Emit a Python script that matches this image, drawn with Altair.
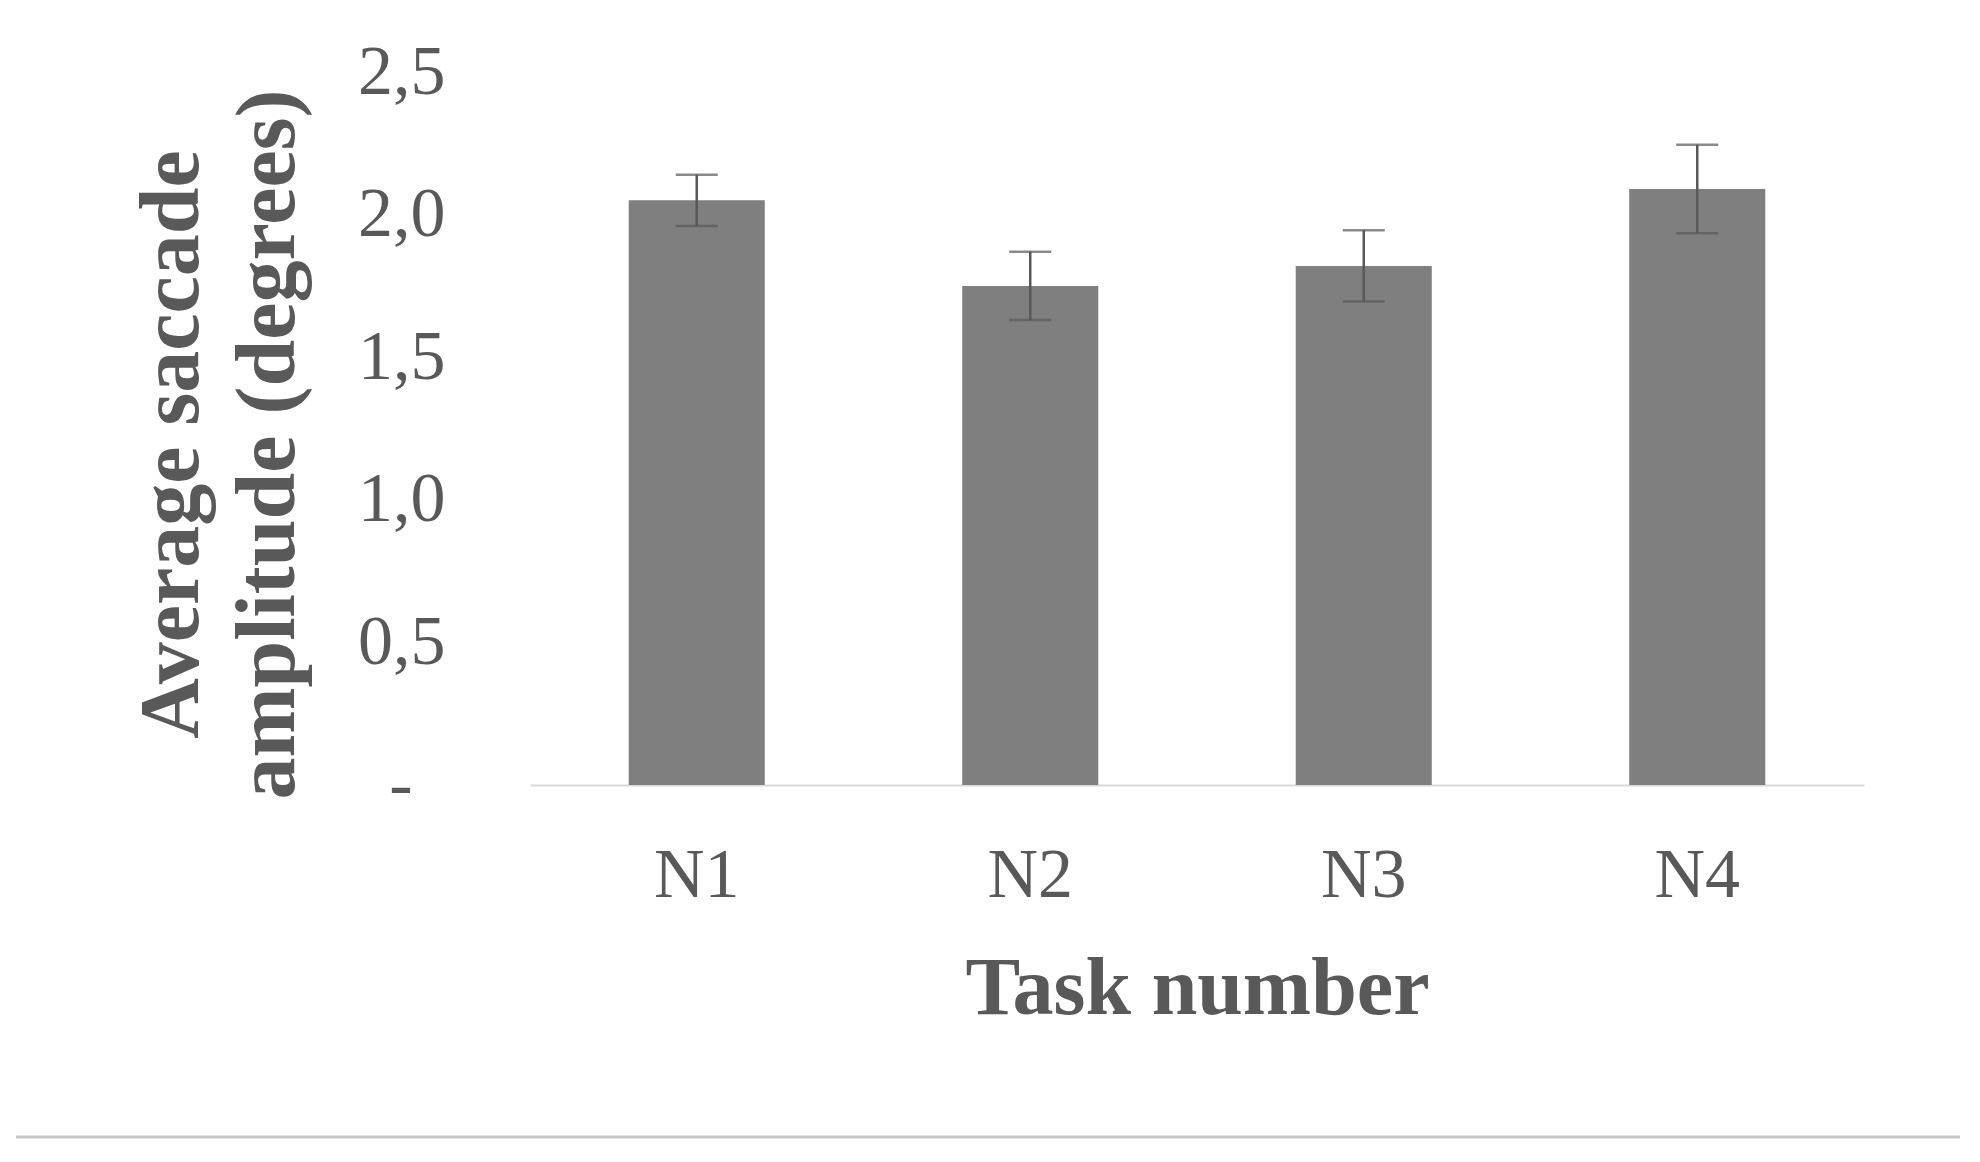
import altair as alt
import pandas as pd

tasks = ["N1", "N2", "N3", "N4"]
means = [2.05, 1.75, 1.82, 2.09]
errors = [0.09, 0.12, 0.125, 0.155]
y_ticks = [0, 0.5, 1.0, 1.5, 2.0, 2.5]
y_title = ["Average saccade", "amplitude (degrees)"]
x_title = "Task number"

df = pd.DataFrame({"task": tasks, "mean": means, "err": errors})
df["low"] = df["mean"] - df["err"]
df["high"] = df["mean"] + df["err"]

FONT = "Liberation Serif"
GRAY = "#595959"

xscale = alt.Scale(paddingInner=0.592, paddingOuter=0.296)
yscale = alt.Scale(domain=[0, 2.5], nice=False, zero=True)

x_axis = alt.Axis(
    title=x_title, labelAngle=0, labelFont=FONT, labelFontSize=70, labelColor=GRAY,
    labelBaseline="alphabetic", labelPadding=111, ticks=False, tickSize=0,
    domainColor="#d9d9d9", domainWidth=2,
    titleFont=FONT, titleFontSize=82, titleFontWeight="bold", titleColor=GRAY,
    titleBaseline="alphabetic", titleY=228,
)
y_axis = alt.Axis(
    title=y_title, values=y_ticks,
    labelExpr="datum.value == 0 ? '-' : replace(format(datum.value, '.1f'), '.', ',')",
    labelFont=FONT, labelFontSize=70, labelColor=GRAY,
    labelPadding={"condition": {"test": "datum.value == 0", "value": 118}, "value": 85},
    ticks=False, tickSize=0, domain=False, grid=False,
    titleFont=FONT, titleFontSize=84, titleFontWeight="bold", titleColor=GRAY,
    titleAngle=270, titleAlign="center", titleBaseline="middle",
    titleX=-358, titleY=372, titleLineHeight=96,
)

base = alt.Chart(df)
X = alt.X("task:N", sort=tasks, scale=xscale, axis=x_axis)

bars = base.mark_bar(color="#7f7f7f").encode(
    x=X, y=alt.Y("mean:Q", scale=yscale, axis=y_axis)
)
err_rule = base.mark_rule(color=GRAY, strokeWidth=2.5).encode(
    x=X, y=alt.Y("low:Q", scale=yscale, axis=y_axis), y2="high:Q"
)
cap_lo = base.mark_tick(color=GRAY, size=42, thickness=2.5).encode(
    x=X, y=alt.Y("low:Q", scale=yscale, axis=y_axis)
)
cap_hi = base.mark_tick(color=GRAY, size=42, thickness=2.5).encode(
    x=X, y=alt.Y("high:Q", scale=yscale, axis=y_axis)
)
sep = alt.Chart(pd.DataFrame({"a": [0]})).mark_rule(color="#c8c8c8", strokeWidth=3).encode(
    x=alt.value(-514), x2=alt.value(1430), y=alt.value(1065)
)

chart = alt.layer(bars, err_rule, cap_lo, cap_hi, sep).properties(
    width=1334, height=713,
    autosize=alt.AutoSizeParams(type="none"),
    padding={"left": 522, "top": 64, "right": 108, "bottom": 360},
).configure_view(strokeWidth=0)

chart.save("out.html", embed_options={"renderer": "svg", "actions": False})
